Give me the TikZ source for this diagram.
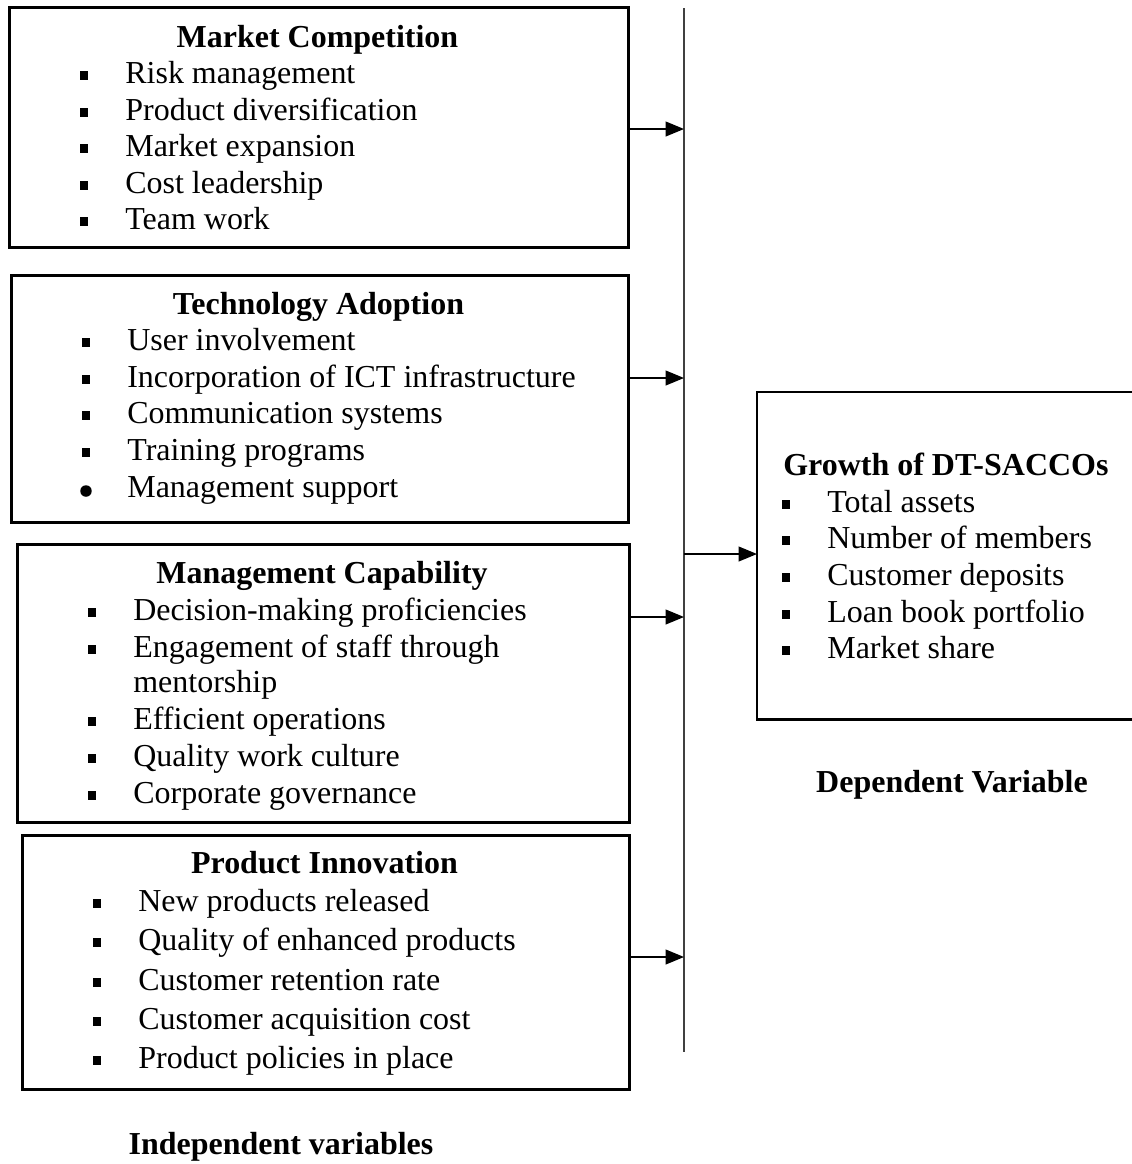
\documentclass[tikz,border=0pt]{standalone}
\usepackage{fontspec}
\setmainfont{Liberation Serif}
\usetikzlibrary{arrows.meta}

\tikzset{
	varbox/.style = {draw, line width=1.6pt, anchor=north west, inner sep=0pt},
	item/.style = {anchor=base west, inner sep=0pt, font=\fontsize{18.2}{21}\selectfont},
	head/.style = {anchor=base, inner sep=0pt, font=\fontsize{18.2}{21}\selectfont\bfseries},
	sqbullet/.style = {fill, inner sep=0pt, minimum width=0.17cm, minimum height=0.18cm},
	dotbullet/.style = {circle, fill, inner sep=0pt, minimum size=0.23cm},
	link/.style = {-{Triangle[length=10.5pt,width=8.5pt]}, line width=0.75pt}
}

\begin{document}
\begin{tikzpicture}[x=0.02cm, y=-0.02cm]
	\useasboundingbox (0,0) rectangle (1132,1164);

	% independent variable boxes
	\node[varbox, minimum width=12.38cm, minimum height=4.8cm] (mc) at (8,6) {};
	\node[varbox, minimum width=12.34cm, minimum height=4.94cm] (ta) at (10,274) {};
	\node[varbox, minimum width=12.24cm, minimum height=5.56cm] (mcap) at (16,543) {};
	\node[varbox, minimum width=12.14cm, minimum height=5.08cm] (pi) at (21,834) {};

	% Market Competition
	\node[head] (mc-title) at (317.5,47) {Market Competition};
	\foreach \y/\t [count=\i] in {83/Risk management, 120/Product diversification,
		156/Market expansion, 193/Cost leadership, 229/Team work} {
		\node[sqbullet] (mc-b\i) at (84,\y-7.5) {};
		\node[item] (mc-i\i) at (125,\y) {\t};
	}

	% Technology Adoption
	\node[head] (ta-title) at (318.5,314) {Technology Adoption};
	\foreach \y/\t [count=\i] in {350/User involvement, 387/Incorporation of ICT infrastructure,
		423/Communication systems, 460/Training programs} {
		\node[sqbullet] (ta-b\i) at (86,\y-7.5) {};
		\node[item] (ta-i\i) at (127,\y) {\t};
	}
	\node[dotbullet] (ta-b5) at (86,491) {};
	\node[item] (ta-i5) at (127,497) {Management support};

	% Management Capability
	\node[head] (mcap-title) at (322,583) {Management Capability};
	\foreach \y/\t [count=\i] in {620/Decision-making proficiencies, 657/Engagement of staff through,
		729/Efficient operations, 766/Quality work culture, 803/Corporate governance} {
		\node[sqbullet] (mcap-b\i) at (92,\y-7.5) {};
		\node[item] (mcap-i\i) at (133,\y) {\t};
	}
	\node[item] (mcap-cont) at (133,692) {mentorship};

	% Product Innovation
	\node[head] (pi-title) at (324.5,873) {Product Innovation};
	\foreach \y/\t [count=\i] in {911/New products released, 950/Quality of enhanced products,
		990/Customer retention rate, 1029/Customer acquisition cost, 1068/Product policies in place} {
		\node[sqbullet] (pi-b\i) at (97,\y-7.5) {};
		\node[item] (pi-i\i) at (138,\y) {\t};
	}

	\node[head] (indep) at (281,1154) {Independent variables};

	% dependent variable
	\node[anchor=north west, inner sep=0pt, minimum width=7.5cm, minimum height=6.54cm] (growth) at (757,392) {};
	\draw[line width=1.6pt] (growth.north east) -- (growth.north west) -- (growth.south west) -- (growth.south east);
	\node[item, font=\fontsize{18.2}{21}\selectfont\bfseries] (growth-title) at (783,475) {Growth of DT-SACCOs};
	\foreach \y/\t [count=\i] in {512/Total assets, 548/Number of members, 585/Customer deposits,
		622/Loan book portfolio, 658/Market share} {
		\node[sqbullet] (growth-b\i) at (786,\y-7.5) {};
		\node[item] (growth-i\i) at (827,\y) {\t};
	}
	\node[head] (dep) at (952,792) {Dependent Variable};

	% spine and links
	\coordinate (spine-top) at (684,8);
	\coordinate (spine-bot) at (684,1052);
	\draw[line width=0.75pt, black!75] (spine-top) -- (spine-bot);

	\coordinate (j1) at (684,129);
	\coordinate (j2) at (684,378);
	\coordinate (j3) at (684,617);
	\coordinate (j4) at (684,957);
	\coordinate (j5) at (684,554);
	\draw[link] (mc.east |- j1) -- (j1);
	\draw[link] (ta.east |- j2) -- (j2);
	\draw[link] (mcap.east |- j3) -- (j3);
	\draw[link] (pi.east |- j4) -- (j4);
	\draw[link] (j5) -- (growth.west |- j5);
\end{tikzpicture}
\end{document}
